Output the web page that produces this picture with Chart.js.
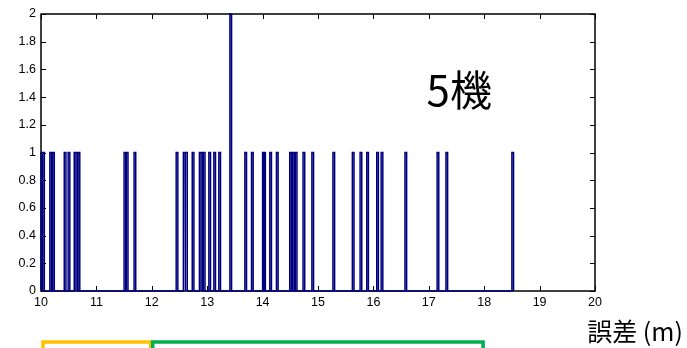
<!DOCTYPE html>
<html>
<head>
<meta charset="utf-8">
<script src="https://cdn.jsdelivr.net/npm/chart.js@4"></script>
<style>
  body { margin: 0; background: #fff; }
  #wrap { width: 687px; height: 348px; }
</style>
</head>
<body>
<div id="wrap"><canvas id="histChart" width="687" height="348"></canvas></div>
<script>
// 誤差のヒストグラム (5機)
const binStarts = [10.00, 10.03, 10.16, 10.21, 10.42, 10.49, 10.60, 10.63, 10.67,
    11.50, 11.54, 11.68, 12.44, 12.57, 12.61, 12.73, 12.86, 12.89, 12.93,
    13.03, 13.12, 13.21, 13.41, 13.68, 13.80, 14.00, 14.02, 14.13, 14.25,
    14.49, 14.54, 14.59, 14.73, 14.89, 15.27, 15.62, 15.76, 15.88, 16.06,
    16.14, 16.57, 17.15, 17.31, 18.50];
const counts = [1, 1, 1, 1, 1, 1, 1, 1, 1,
    1, 1, 1, 1, 1, 1, 1, 1, 1, 1,
    1, 1, 1, 2, 1, 1, 1, 1, 1, 1,
    1, 1, 1, 1, 1, 1, 1, 1, 1, 1,
    1, 1, 1, 1, 1];
const binWidth = 0.03;
const xTicks = [10, 11, 12, 13, 14, 15, 16, 17, 18, 19, 20];
const yTicks = [0, 0.2, 0.4, 0.6, 0.8, 1, 1.2, 1.4, 1.6, 1.8, 2];
// 下の括弧 (黄, 緑)
const bracketRanges = [[10, 11.98], [11.98, 17.98]];
const bracketColors = ['#FFC000', '#00B050'];

// 階段状の線を作る
const stairs = [{ x: 10, y: 0 }];
binStarts.forEach((s, i) => {
    stairs.push({ x: s, y: 0 }, { x: s, y: counts[i] },
                { x: s + binWidth, y: counts[i] }, { x: s + binWidth, y: 0 });
});

const boxPlugin = {
    id: 'box',
    beforeDatasetsDraw(chart) {
        const c = chart.ctx, a = chart.chartArea;
        const xs = chart.scales.x, ys = chart.scales.y;
        c.save();
        c.strokeStyle = '#000';
        c.lineWidth = 1;
        c.beginPath();
        xTicks.forEach(v => {
            const px = Math.round(xs.getPixelForValue(v)) + 0.5;
            c.moveTo(px, a.bottom); c.lineTo(px, a.bottom - 5);
            c.moveTo(px, a.top); c.lineTo(px, a.top + 5);
        });
        yTicks.forEach(v => {
            const py = Math.round(ys.getPixelForValue(v)) + 0.5;
            c.moveTo(a.left, py); c.lineTo(a.left + 5, py);
            c.moveTo(a.right, py); c.lineTo(a.right - 5, py);
        });
        c.stroke();
        c.lineWidth = 1.5;
        c.strokeRect(a.left, a.top, a.right - a.left, a.bottom - a.top);
        c.restore();
    },
    afterDraw(chart) {
        const c = chart.ctx;
        const xs = chart.scales.x, ys = chart.scales.y;
        c.save();
        c.fillStyle = '#000';
        c.textAlign = 'center';
        c.textBaseline = 'middle';
        c.font = '42px "Noto Sans CJK JP"';
        c.fillText('5機', xs.getPixelForValue(17.55), ys.getPixelForValue(1.45));
        c.font = '25px "Noto Sans CJK JP"';
        c.fillText('誤差 (m)', 635, 331);
        // 括弧
        c.lineWidth = 3.5;
        bracketRanges.forEach((r, i) => {
            const x0 = xs.getPixelForValue(r[0]) + 2, x1 = xs.getPixelForValue(r[1]);
            c.strokeStyle = bracketColors[i];
            c.beginPath();
            c.moveTo(x0, 350); c.lineTo(x0, 342); c.lineTo(x1, 342); c.lineTo(x1, 350);
            c.stroke();
        });
        c.restore();
    }
};

const tickFont = { family: 'Liberation Sans', size: 12.5 };

const ctx = document.getElementById('histChart').getContext('2d');
new Chart(ctx, {
    type: 'line',
    data: {
        datasets: [{
            data: stairs,
            borderColor: '#00007F',
            borderWidth: 1.5,
            pointRadius: 0,
            tension: 0,
            clip: false
        }]
    },
    options: {
        responsive: false,
        animation: false,
        layout: { padding: { left: 0, top: 14, right: 92, bottom: 0 } },
        plugins: { legend: { display: false }, tooltip: { enabled: false } },
        scales: {
            x: {
                type: 'linear', min: 10, max: 20,
                afterBuildTicks: s => { s.ticks = xTicks.map(v => ({ value: v })); },
                afterFit: s => { s.height = 57; },
                grid: { display: false, drawTicks: false },
                border: { display: false },
                ticks: { padding: 4, color: '#000', font: tickFont, maxRotation: 0,
                         callback: v => String(v) }
            },
            y: {
                min: 0, max: 2,
                afterBuildTicks: s => { s.ticks = yTicks.map(v => ({ value: v })); },
                afterFit: s => { s.width = 41; },
                grid: { display: false, drawTicks: false },
                border: { display: false },
                ticks: { padding: 5, color: '#000', font: tickFont,
                         callback: v => String(+v.toFixed(1)) }
            }
        }
    },
    plugins: [boxPlugin]
});
</script>
</body>
</html>
